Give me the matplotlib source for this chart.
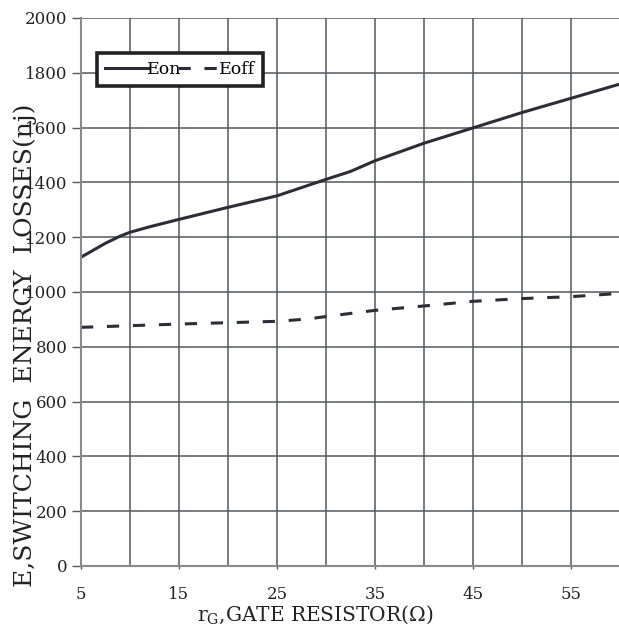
import numpy as np
from matplotlib import pyplot as plt
from matplotlib.ticker import MultipleLocator

# Switching energy vs gate resistance
rg_on = [5, 7.5, 9, 10, 12, 15, 20, 25, 30, 32.5, 35, 37.5, 40, 45, 50, 55, 60]
eon = [1127, 1178, 1204, 1218, 1238, 1265, 1309, 1351, 1411, 1440, 1479, 1511, 1543, 1599, 1655, 1707, 1759]

rg_off = [5, 10, 15, 20, 25, 28, 31, 35, 40, 45, 50, 55, 60]
eoff = [871, 877, 883, 888, 893, 901, 915, 933, 949, 966, 976, 983, 995]

x_ticks = [5, 15, 25, 35, 45, 55]

plt.rcParams['font.family'] = 'DejaVu Serif'
plt.rcParams['mathtext.fontset'] = 'dejavuserif'

line_col = '#2b2e36'
grid_col = '#55575f'

fig = plt.figure(figsize=(6.19, 6.33), dpi=100)
ax = fig.add_axes([81 / 619, 67 / 633, 539 / 619, 548 / 633])

ax.plot(rg_on, eon, color=line_col, lw=2.2, label='Eon')
ax.plot(rg_off, eoff, color=line_col, lw=2.2, dashes=(4, 4.5), label='Eoff')

ax.set_xlim(5, 60)
ax.set_ylim(0, 2000)
ax.set_xticks(x_ticks)
ax.xaxis.set_minor_locator(MultipleLocator(5))
ax.yaxis.set_major_locator(MultipleLocator(200))

ax.grid(which='minor', axis='x', color=grid_col, lw=1.1)
ax.grid(which='major', axis='both', color=grid_col, lw=1.1)
ax.set_axisbelow(True)

ax.tick_params(axis='y', direction='out', length=6.5, width=1, color=grid_col,
               labelsize=12, pad=3, labelcolor='#222')
ax.tick_params(axis='x', which='major', direction='out', length=2.5, width=1,
               color=grid_col, labelsize=12, pad=12, labelcolor='#222')
ax.tick_params(axis='x', which='minor', length=0)

for side in ['top', 'right']:
    ax.spines[side].set_visible(False)
for side in ['left', 'bottom']:
    ax.spines[side].set_color('#8a8a8a')
    ax.spines[side].set_linewidth(1.5)

ax.set_xlabel(r'r$_\mathrm{G}$,GATE RESISTOR(Ω)', fontsize=14.5, color='#222')
ax.xaxis.set_label_coords(0.434, -0.068)
ax.set_ylabel('E,SWITCHING  ENERGY  LOSSES(nj)', fontsize=18, color='#222')
ax.yaxis.set_label_coords(-0.082, 0.403)

leg = ax.legend(loc='upper left', bbox_to_anchor=(0.03, 0.936), ncol=2,
                handlelength=2.5, handletextpad=-0.1, columnspacing=-0.2,
                borderpad=0.45, borderaxespad=0, fancybox=False, framealpha=1,
                fontsize=12.5)
leg.get_frame().set_edgecolor('#222')
leg.get_frame().set_linewidth(2.6)

plt.savefig('out.png', dpi=100)
